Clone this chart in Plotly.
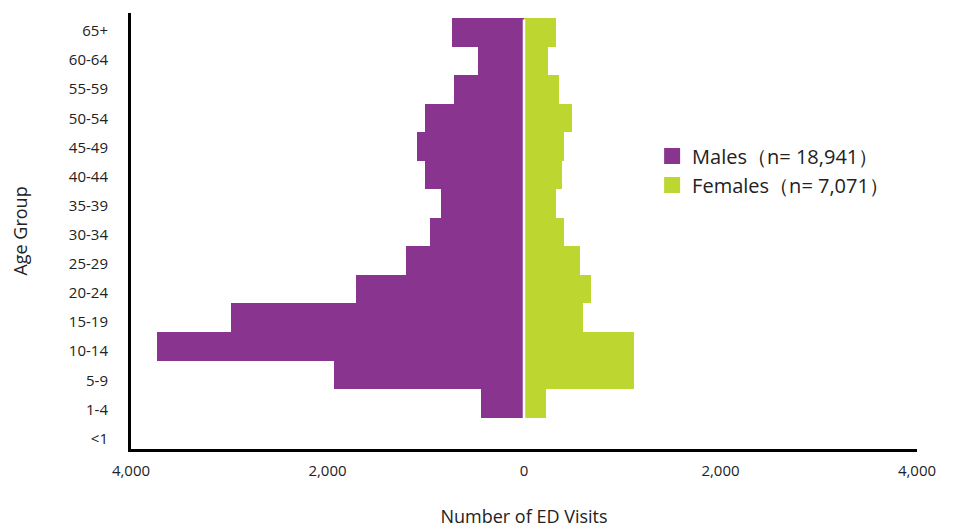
import plotly.graph_objects as go

age_groups = ["<1", "1-4", "5-9", "10-14", "15-19", "20-24", "25-29", "30-34",
              "35-39", "40-44", "45-49", "50-54", "55-59", "60-64", "65+"]
males = [0, 437, 1929, 3736, 2985, 1706, 1198, 954, 843, 1005, 1086, 1005, 711, 467, 731]
females = [0, 223, 1117, 1117, 599, 680, 569, 406, 325, 386, 406, 487, 355, 244, 325]
male_label = "Males\uff08n= 18,941\uff09"
female_label = "Females\uff08n= 7,071\uff09"
tick_vals = [-4000, -2000, 0, 2000, 4000]
tick_text = ["4,000", "2,000", "0", "2,000", "4,000"]

PURPLE = "#89358F"
GREEN = "#BDD730"
FONT = "Open Sans"

fig = go.Figure()
fig.add_trace(go.Bar(y=age_groups, x=[-v for v in males], orientation="h",
                     marker=dict(color=PURPLE, line=dict(width=0)), showlegend=False,
                     name=male_label))
fig.add_trace(go.Bar(y=age_groups, x=females, orientation="h",
                     marker=dict(color=GREEN, line=dict(width=0)), showlegend=False,
                     name=female_label))
# legend entries (placed on the label axis, no visible points)
fig.add_trace(go.Scatter(x=[None] * len(age_groups), y=age_groups, yaxis="y2",
                         mode="markers", name=male_label,
                         marker=dict(symbol="square", size=16, color=PURPLE)))
fig.add_trace(go.Scatter(x=[None] * len(age_groups), y=age_groups, yaxis="y2",
                         mode="markers", name=female_label,
                         marker=dict(symbol="square", size=16, color=GREEN)))

fig.add_shape(type="line", xref="x", yref="paper", x0=0, x1=0, y0=0, y1=0.985,
              line=dict(color="white", width=2.5), layer="above")

# page body has an 8px default margin; size the figure to fit inside the window
fig.update_layout(
    width=947, height=521,
    margin=dict(l=123, r=37.5, t=5, b=79.5),
    plot_bgcolor="white", paper_bgcolor="white",
    barmode="relative", bargap=0,
    font=dict(family=FONT, color="#222222", size=15),
    legend=dict(x=0.663, y=0.717, xanchor="left", yanchor="top",
                font=dict(size=20, color="#222222"), itemsizing="trace",
                tracegroupgap=0, bgcolor="rgba(0,0,0,0)"),
    xaxis=dict(range=[-4000, 4000], tickvals=tick_vals, ticktext=tick_text,
               showline=True, linecolor="black", linewidth=3, showgrid=False,
               zeroline=False, ticks="", ticklabelstandoff=6, automargin=False,
               title=dict(text="Number of ED Visits", font=dict(size=18), standoff=32)),
    yaxis=dict(range=[-0.60, 14.675], showline=True, linecolor="black", linewidth=3,
               showgrid=False, zeroline=False, ticks="", showticklabels=False,
               automargin=False,
               title=dict(text="Age Group", font=dict(size=18), standoff=99),
               categoryorder="array", categoryarray=age_groups),
    yaxis2=dict(overlaying="y", side="left", range=[-0.362, 14.618],
                showline=False, showgrid=False, zeroline=False, ticks="",
                ticklabelstandoff=22, automargin=False,
                categoryorder="array", categoryarray=age_groups),
)

fig.write_html("out.html")
